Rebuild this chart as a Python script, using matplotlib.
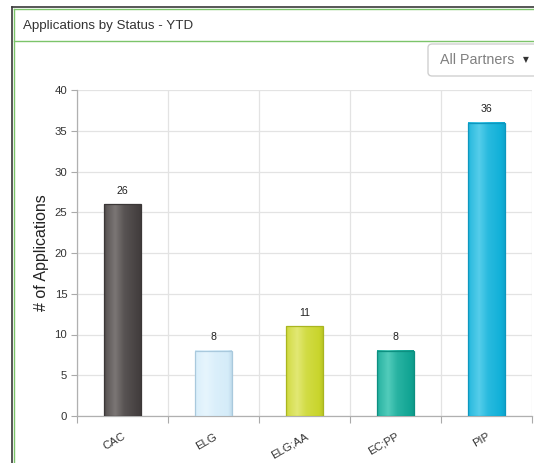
import numpy as np
import matplotlib
matplotlib.use('Agg')
import matplotlib.pyplot as plt
from matplotlib.patches import FancyBboxPatch
from matplotlib.lines import Line2D

# status counts, year to date
statuses = ['CAC', 'ELG', 'ELG;AA', 'EC;PP', 'PIP']
counts = [26, 8, 11, 8, 36]

# (edge, base, highlight) per bar
bar_colors = [
    ('#3b3737', '#464141', '#7b7675'),
    ('#a9c9dd', '#d5ecf9', '#e6f5fd'),
    ('#a9b520', '#c9d52c', '#e2e874'),
    ('#0d8f80', '#12a594', '#52ccbb'),
    ('#0d97bf', '#11b0d8', '#55cdea'),
]

plt.rcParams['font.family'] = ['Liberation Sans', 'DejaVu Sans']

fig = plt.figure(figsize=(5.34, 4.63), dpi=100)
W, H = 534, 463


def fx(px):
    return px / W


def fy(py):
    return 1 - py / H


# panel frame
fig.add_artist(Line2D([fx(12), fx(12)], [0, fy(7)], color='#3a3a3a', lw=1.2, transform=fig.transFigure))
fig.add_artist(Line2D([fx(12), 1], [fy(7), fy(7)], color='#3a3a3a', lw=1.2, transform=fig.transFigure))
fig.add_artist(Line2D([fx(14), fx(14)], [0, fy(9)], color='#7cc46a', lw=1.0, transform=fig.transFigure))
fig.add_artist(Line2D([fx(14), 1], [fy(9), fy(9)], color='#7cc46a', lw=1.0, transform=fig.transFigure))
fig.add_artist(Line2D([fx(14), 1], [fy(41), fy(41)], color='#7cc46a', lw=1.0, transform=fig.transFigure))

fig.text(fx(23), fy(25.5), 'Applications by Status - YTD', fontsize=9.6, color='#333333',
         va='center', ha='left')

# partner dropdown
fig.add_artist(FancyBboxPatch((fx(428), fy(76)), fx(140), fy(44) - fy(76),
                              boxstyle='round,pad=0,rounding_size=0.008',
                              transform=fig.transFigure, facecolor='white',
                              edgecolor='#d0d0d0', lw=1.0))
fig.text(fx(440), fy(60), 'All Partners', fontsize=10.3, color='#808080', va='center', ha='left')
fig.text(fx(526), fy(60), '\u25bc', fontsize=5.5, color='#333333', va='center', ha='center',
         family='DejaVu Sans')

ax = fig.add_axes([fx(77), fy(416), fx(532) - fx(77), fy(90) - fy(416)])

x = np.arange(len(statuses))
width = 0.4
bars = ax.bar(x, counts, width=width, color='none', edgecolor='none', zorder=3)

# cylinder-style horizontal shading
stops = [0.0, 0.08, 0.3, 0.55, 0.9, 1.0]
weights = [0.15, 0.5, 1.0, 0.35, 0.0, -0.15]
t = np.linspace(0, 1, 64)
w = np.interp(t, stops, weights)
for rect, (edge, base, hi) in zip(bars, bar_colors):
    b = np.array(matplotlib.colors.to_rgb(base))
    h = np.array(matplotlib.colors.to_rgb(hi))
    e = np.array(matplotlib.colors.to_rgb(edge))
    img = np.empty((1, len(t), 3))
    for i, wi in enumerate(w):
        if wi >= 0:
            img[0, i] = b + (h - b) * wi
        else:
            img[0, i] = b + (e - b) * (-wi) * 3
    x0, y0 = rect.get_x(), rect.get_y()
    ax.imshow(np.clip(img, 0, 1), extent=(x0, x0 + rect.get_width(), y0, y0 + rect.get_height()),
              aspect='auto', zorder=3, interpolation='bilinear')
    ax.add_patch(plt.Rectangle((x0, y0), rect.get_width(), rect.get_height(),
                               facecolor='none', edgecolor=edge, lw=0.9, zorder=4))
    ax.annotate(str(int(rect.get_height())), (x0 + rect.get_width() / 2, rect.get_height()),
                xytext=(0, 6), textcoords='offset points', ha='center', va='bottom',
                fontsize=7.6, color='#222222')

ax.set_xlim(-0.5, len(statuses) - 0.5)
ax.set_ylim(0, 40)
ax.set_yticks(np.arange(0, 41, 5))
ax.set_xticks(x)
ax.set_xticklabels(statuses, rotation=30, ha='right', rotation_mode='anchor',
                   fontsize=8.2, color='#333333')
ax.set_xticks(np.arange(-0.5, len(statuses), 1), minor=True)
ax.tick_params(axis='x', which='major', length=0, pad=11)
ax.tick_params(axis='x', which='minor', length=5, color='#aaaaaa', width=0.8)
ax.tick_params(axis='y', length=4, color='#aaaaaa', width=0.8, labelsize=8.2,
               labelcolor='#333333', pad=3)

ax.grid(axis='y', which='major', color='#e3e3e3', lw=0.9, zorder=0)
ax.grid(axis='x', which='minor', color='#e3e3e3', lw=0.9, zorder=0)
ax.set_axisbelow(True)
for s in ['top', 'right']:
    ax.spines[s].set_visible(False)
for s in ['left', 'bottom']:
    ax.spines[s].set_color('#b0b0b0')
    ax.spines[s].set_linewidth(0.9)

ax.set_ylabel('# of Applications', fontsize=11.5, color='#222222', labelpad=4)

fig.savefig('out.png', dpi=100)
